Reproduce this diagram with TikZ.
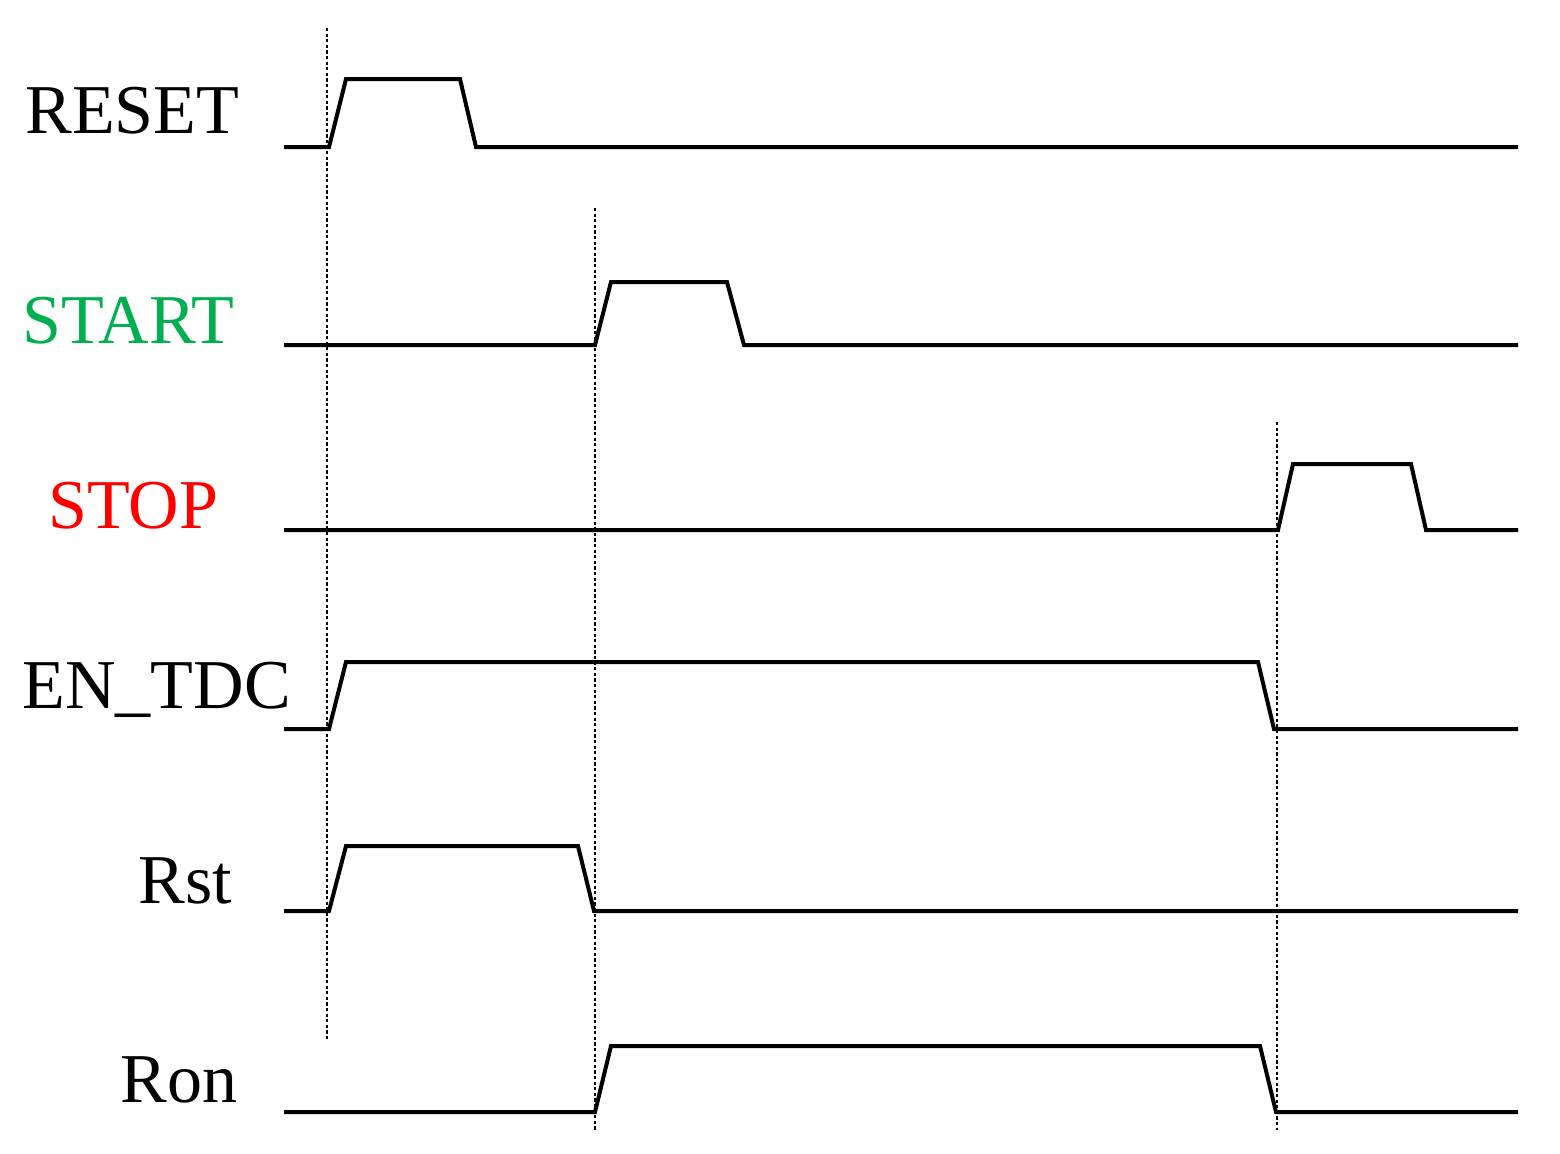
\documentclass[tikz,border=0pt]{standalone}
\usepackage{fontspec}
\setmainfont{Liberation Serif}
\definecolor{sgreen}{RGB}{0,176,80}
\definecolor{sred}{RGB}{255,0,0}
\begin{document}
\begin{tikzpicture}[x=0.5pt,y=-0.5pt,
  wave/.style={line width=2pt,line join=miter},
  guide/.style={line width=0.7pt,dash pattern=on 1.6pt off 1.2pt},
  lab/.style={anchor=base west,inner sep=0pt,font=\fontsize{35}{42}\selectfont}]
\useasboundingbox (0,0) rectangle (1560,1153);
% labels
\node[lab] (lreset) at (25,133) {RESET};
\node[lab,text=sgreen] (lstart) at (22,343) {START};
\node[lab,text=sred] (lstop) at (48,528) {STOP};
\node[lab] (lentdc) at (22,708) {EN\_TDC};
\node[lab] (lrst) at (138,903) {Rst};
\node[lab] (lron) at (120,1102) {Ron};
% guides
\draw[guide] (327,28) -- (327,1040);
\draw[guide] (595,208) -- (595,1130);
\draw[guide] (1277,422) -- (1277,1130);
% waveforms
\draw[wave] (284,147) -- (329,147) -- (346,79) -- (460,79) -- (476,147) -- (1518,147);
\draw[wave] (284,345) -- (595,345) -- (611,282) -- (727,282) -- (744,345) -- (1518,345);
\draw[wave] (284,530) -- (1278,530) -- (1293,464) -- (1411,464) -- (1426,530) -- (1518,530);
\draw[wave] (284,729) -- (329,729) -- (346,662) -- (1258,662) -- (1274,729) -- (1518,729);
\draw[wave] (284,911) -- (329,911) -- (346,846) -- (578,846) -- (594,911) -- (1518,911);
\draw[wave] (284,1112) -- (595,1112) -- (611,1046) -- (1260,1046) -- (1276,1112) -- (1518,1112);
\end{tikzpicture}
\end{document}
